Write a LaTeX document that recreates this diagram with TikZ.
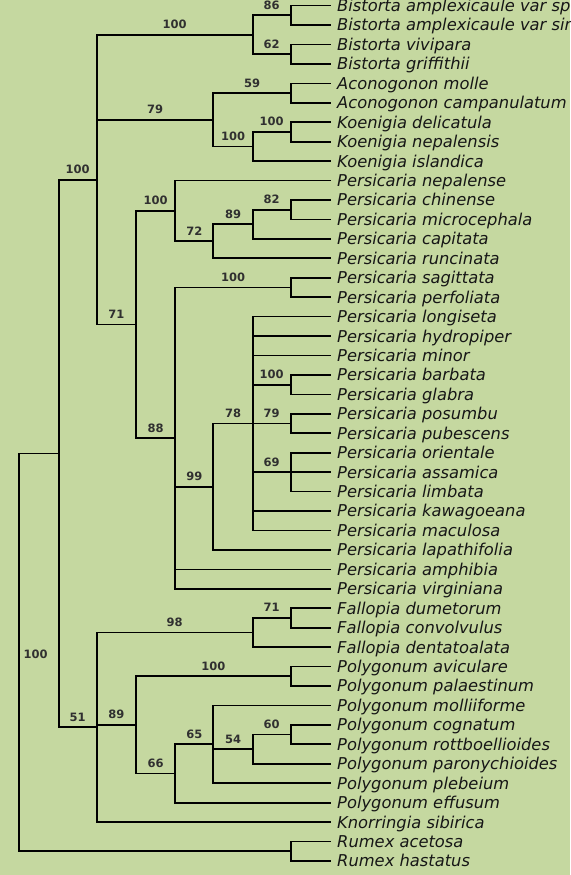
\documentclass[tikz,border=0pt]{standalone}
\usepackage{fontspec}
\setmainfont{DejaVu Sans}
\begin{document}
\definecolor{bgcol}{RGB}{197,216,160}
\definecolor{leafcol}{RGB}{22,22,22}
\definecolor{supcol}{RGB}{48,48,48}
\begin{tikzpicture}[x=1pt,y=-1pt,
  branch/.style={draw=black,line width=1.7pt,line cap=rect},
  leaf/.style={anchor=west,inner xsep=7pt,inner ysep=0pt,text height=11.9pt,text depth=0pt,
    font=\fontsize{16.3}{18}\selectfont\itshape,text=leafcol},
  sup/.style={pos=0.75,anchor=base,yshift=6pt,inner sep=0pt,
    font=\fontsize{11.5}{13}\selectfont\bfseries,text=supcol}]
\useasboundingbox (0,0) rectangle (570,875);
\fill[bgcol] (0,0) rectangle (570,875);
\clip (0,0) rectangle (570,875);

% terminal taxa
\foreach \nm [count=\i] in {
  Bistorta amplexicaule var speciosa, Bistorta amplexicaule var sinensis,
  Bistorta vivipara, Bistorta griffithii, Aconogonon molle, Aconogonon campanulatum,
  Koenigia delicatula, Koenigia nepalensis, Koenigia islandica, Persicaria nepalense,
  Persicaria chinense, Persicaria microcephala, Persicaria capitata, Persicaria runcinata,
  Persicaria sagittata, Persicaria perfoliata, Persicaria longiseta, Persicaria hydropiper,
  Persicaria minor, Persicaria barbata, Persicaria glabra, Persicaria posumbu,
  Persicaria pubescens, Persicaria orientale, Persicaria assamica, Persicaria limbata,
  Persicaria kawagoeana, Persicaria maculosa, Persicaria lapathifolia, Persicaria amphibia,
  Persicaria virginiana, Fallopia dumetorum, Fallopia convolvulus, Fallopia dentatoalata,
  Polygonum aviculare, Polygonum palaestinum, Polygonum molliiforme, Polygonum cognatum,
  Polygonum rottboellioides, Polygonum paronychioides, Polygonum plebeium, Polygonum effusum,
  Knorringia sibirica, Rumex acetosa, Rumex hastatus}
  \node[leaf] (l\i) at (330,{5.6+(\i-1)*19.44}) {\nm};

% internal nodes
\coordinate (root)   at (19.3,652.36);
\coordinate (nA)     at (58.7,453.48);
\coordinate (nB)     at (96.7,179.65);
\coordinate (nBist)  at (252.7,34.76);
\coordinate (c86)    at (290.7,15.32);
\coordinate (c62)    at (290.7,54.20);
\coordinate (n79)    at (213.3,119.81);
\coordinate (c59)    at (290.7,93.08);
\coordinate (nKoen)  at (252.7,146.54);
\coordinate (c100k)  at (290.7,131.96);
\coordinate (n71)    at (136,324.54);
\coordinate (n100p)  at (175.3,210.94);
\coordinate (n72)    at (213.3,241.31);
\coordinate (n89a)   at (252.7,224.30);
\coordinate (c82)    at (290.7,209.72);
\coordinate (n88)    at (175.3,438.14);
\coordinate (c100s)  at (290.7,287.48);
\coordinate (n99)    at (213.3,486.74);
\coordinate (n78)    at (252.7,423.56);
\coordinate (c100b)  at (290.7,384.68);
\coordinate (c79p)   at (290.7,423.56);
\coordinate (c69)    at (290.7,472.16);
\coordinate (n51)    at (96.7,727.31);
\coordinate (n98)    at (252.7,632.54);
\coordinate (c71f)   at (290.7,617.96);
\coordinate (n89b)   at (136,724.88);
\coordinate (c100pa) at (290.7,676.28);
\coordinate (n66)    at (175.3,773.48);
\coordinate (n65)    at (213.3,744.32);
\coordinate (n54)    at (252.7,749.18);
\coordinate (c60)    at (290.7,734.60);
\coordinate (cR)     at (290.7,851.24);

% root
\draw[branch] (root) |- (nA);
\draw[branch] (root) |- (cR);
\node[font=\fontsize{11.5}{13}\selectfont\bfseries,text=supcol,anchor=west,inner sep=0pt]
  (rootlab) at ([xshift=4pt,yshift=-1.5pt]root) {100};
\draw[branch] (cR) |- (l44.west);
\draw[branch] (cR) |- (l45.west);

\draw[branch] (nA) |- (nB) node[sup] {100};
\draw[branch] (nA) |- (n51) node[sup] {51};

% Bistorta
\draw[branch] (nB) |- (nBist) node[sup] {100};
\draw[branch] (nBist) |- (c86) node[sup] {86};
\draw[branch] (nBist) |- (c62) node[sup] {62};
\draw[branch] (c86) |- (l1.west);
\draw[branch] (c86) |- (l2.west);
\draw[branch] (c62) |- (l3.west);
\draw[branch] (c62) |- (l4.west);

% Aconogonon and Koenigia
\draw[branch] (nB) |- (n79) node[sup] {79};
\draw[branch] (n79) |- (c59) node[sup] {59};
\draw[branch] (c59) |- (l5.west);
\draw[branch] (c59) |- (l6.west);
\draw[branch] (n79) |- (nKoen) node[sup] {100};
\draw[branch] (nKoen) |- (c100k) node[sup] {100};
\draw[branch] (c100k) |- (l7.west);
\draw[branch] (c100k) |- (l8.west);
\draw[branch] (nKoen) |- (l9.west);

% Persicaria
\draw[branch] (nB) |- (n71) node[sup] {71};
\draw[branch] (n71) |- (n100p) node[sup] {100};
\draw[branch] (n100p) |- (l10.west);
\draw[branch] (n100p) |- (n72) node[sup] {72};
\draw[branch] (n72) |- (n89a) node[sup] {89};
\draw[branch] (n89a) |- (c82) node[sup] {82};
\draw[branch] (c82) |- (l11.west);
\draw[branch] (c82) |- (l12.west);
\draw[branch] (n89a) |- (l13.west);
\draw[branch] (n72) |- (l14.west);

\draw[branch] (n71) |- (n88) node[sup] {88};
\draw[branch] (n88) |- (c100s) node[sup] {100};
\draw[branch] (c100s) |- (l15.west);
\draw[branch] (c100s) |- (l16.west);
\draw[branch] (n88) |- (n99) node[sup] {99};
\draw[branch] (n99) |- (n78) node[sup] {78};
\draw[branch] (n78) |- (l17.west);
\draw[branch] (n78) |- (l18.west);
\draw[branch] (n78) |- (l19.west);
\draw[branch] (n78) |- (c100b) node[sup] {100};
\draw[branch] (c100b) |- (l20.west);
\draw[branch] (c100b) |- (l21.west);
\draw[branch] (n78) |- (c79p) node[sup] {79};
\draw[branch] (c79p) |- (l22.west);
\draw[branch] (c79p) |- (l23.west);
\draw[branch] (n78) |- (c69) node[sup] {69};
\draw[branch] (c69) |- (l24.west);
\draw[branch] (c69) |- (l25.west);
\draw[branch] (c69) |- (l26.west);
\draw[branch] (n78) |- (l27.west);
\draw[branch] (n78) |- (l28.west);
\draw[branch] (n99) |- (l29.west);
\draw[branch] (n88) |- (l30.west);
\draw[branch] (n88) |- (l31.west);

% Fallopia, Polygonum, Knorringia
\draw[branch] (n51) |- (n98) node[sup] {98};
\draw[branch] (n98) |- (c71f) node[sup] {71};
\draw[branch] (c71f) |- (l32.west);
\draw[branch] (c71f) |- (l33.west);
\draw[branch] (n98) |- (l34.west);
\draw[branch] (n51) |- (n89b) node[sup] {89};
\draw[branch] (n89b) |- (c100pa) node[sup] {100};
\draw[branch] (c100pa) |- (l35.west);
\draw[branch] (c100pa) |- (l36.west);
\draw[branch] (n89b) |- (n66) node[sup] {66};
\draw[branch] (n66) |- (n65) node[sup] {65};
\draw[branch] (n65) |- (l37.west);
\draw[branch] (n65) |- (n54) node[sup] {54};
\draw[branch] (n54) |- (c60) node[sup] {60};
\draw[branch] (c60) |- (l38.west);
\draw[branch] (c60) |- (l39.west);
\draw[branch] (n54) |- (l40.west);
\draw[branch] (n65) |- (l41.west);
\draw[branch] (n66) |- (l42.west);
\draw[branch] (n51) |- (l43.west);
\end{tikzpicture}
\end{document}
